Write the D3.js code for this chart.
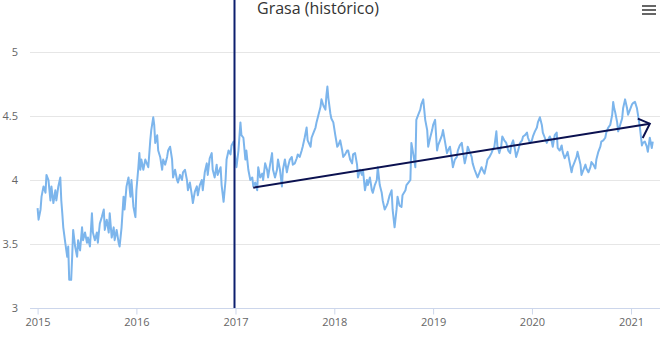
<!DOCTYPE html>
<html>
<head>
<meta charset="utf-8">
<script src="https://cdn.jsdelivr.net/npm/d3@7"></script>
<style>
  body { margin: 0; background: #fff; }
  svg { display: block; font-family: "Open Sans", "Lucida Grande", sans-serif; }
</style>
</head>
<body>
<div id="chart_area"></div>
<script>
var width = 660, height = 338,
    margin = { top: 52, right: 0, bottom: 30, left: 30 };

var title = "Grasa (histórico)";

// decimal years of the series
var years = [
  2015.00, 2015.01, 2015.03, 2015.04, 2015.06, 2015.08, 2015.09, 2015.11, 2015.13, 2015.14,
  2015.16, 2015.18, 2015.19, 2015.21, 2015.23, 2015.24, 2015.25, 2015.26, 2015.28, 2015.30,
  2015.31, 2015.32, 2015.34, 2015.35, 2015.36, 2015.38, 2015.40, 2015.41, 2015.43, 2015.45,
  2015.46, 2015.48, 2015.50, 2015.51, 2015.53, 2015.55, 2015.56, 2015.58, 2015.60, 2015.61,
  2015.63, 2015.65, 2015.67, 2015.68, 2015.70, 2015.72, 2015.73, 2015.75, 2015.77, 2015.78,
  2015.80, 2015.82, 2015.83, 2015.85, 2015.87, 2015.88, 2015.90, 2015.92, 2015.94, 2015.95,
  2015.97, 2015.99, 2016.00, 2016.02, 2016.03, 2016.04, 2016.05, 2016.07, 2016.09, 2016.12,
  2016.14, 2016.15, 2016.17, 2016.18, 2016.19, 2016.21, 2016.22, 2016.24, 2016.26, 2016.27,
  2016.29, 2016.31, 2016.32, 2016.34, 2016.36, 2016.37, 2016.39, 2016.41, 2016.42, 2016.44,
  2016.46, 2016.47, 2016.49, 2016.51, 2016.52, 2016.54, 2016.56, 2016.57, 2016.59, 2016.61,
  2016.62, 2016.64, 2016.66, 2016.67, 2016.69, 2016.71, 2016.72, 2016.74, 2016.76, 2016.77,
  2016.79, 2016.81, 2016.82, 2016.85, 2016.86, 2016.88, 2016.90, 2016.91, 2016.93, 2016.95,
  2016.96, 2016.98, 2017.00, 2017.01, 2017.03, 2017.05, 2017.06, 2017.08, 2017.10, 2017.11,
  2017.13, 2017.15, 2017.17, 2017.18, 2017.20, 2017.22, 2017.23, 2017.25, 2017.27, 2017.28,
  2017.30, 2017.32, 2017.33, 2017.35, 2017.37, 2017.38, 2017.40, 2017.42, 2017.43, 2017.45,
  2017.47, 2017.48, 2017.50, 2017.52, 2017.53, 2017.55, 2017.57, 2017.58, 2017.60, 2017.62,
  2017.63, 2017.65, 2017.67, 2017.68, 2017.70, 2017.72, 2017.73, 2017.76, 2017.77, 2017.79,
  2017.81, 2017.82, 2017.84, 2017.86, 2017.87, 2017.89, 2017.91, 2017.92, 2017.93, 2017.94,
  2017.96, 2017.97, 2017.99, 2018.01, 2018.03, 2018.04, 2018.06, 2018.08, 2018.09, 2018.11,
  2018.13, 2018.14, 2018.16, 2018.18, 2018.19, 2018.21, 2018.23, 2018.24, 2018.26, 2018.28,
  2018.29, 2018.31, 2018.33, 2018.34, 2018.36, 2018.38, 2018.39, 2018.41, 2018.43, 2018.44,
  2018.46, 2018.48, 2018.49, 2018.51, 2018.53, 2018.54, 2018.56, 2018.58, 2018.59, 2018.61,
  2018.63, 2018.64, 2018.66, 2018.68, 2018.69, 2018.72, 2018.73, 2018.75, 2018.77, 2018.78,
  2018.80, 2018.82, 2018.83, 2018.85, 2018.87, 2018.88, 2018.90, 2018.91, 2018.92, 2018.94,
  2018.95, 2018.97, 2018.99, 2019.00, 2019.02, 2019.04, 2019.05, 2019.07, 2019.09, 2019.10,
  2019.12, 2019.14, 2019.15, 2019.17, 2019.19, 2019.20, 2019.22, 2019.24, 2019.25, 2019.27,
  2019.29, 2019.30, 2019.32, 2019.34, 2019.35, 2019.37, 2019.39, 2019.40, 2019.42, 2019.44,
  2019.45, 2019.47, 2019.49, 2019.50, 2019.52, 2019.54, 2019.55, 2019.57, 2019.59, 2019.60,
  2019.62, 2019.64, 2019.65, 2019.67, 2019.69, 2019.70, 2019.72, 2019.74, 2019.76, 2019.78,
  2019.79, 2019.81, 2019.83, 2019.84, 2019.86, 2019.88, 2019.90, 2019.91, 2019.93, 2019.95,
  2019.96, 2019.98, 2020.00, 2020.01, 2020.03, 2020.05, 2020.06, 2020.08, 2020.10, 2020.11,
  2020.13, 2020.15, 2020.16, 2020.18, 2020.20, 2020.21, 2020.23, 2020.25, 2020.26, 2020.28,
  2020.30, 2020.31, 2020.33, 2020.35, 2020.36, 2020.38, 2020.40, 2020.41, 2020.43, 2020.45,
  2020.46, 2020.49, 2020.50, 2020.52, 2020.54, 2020.55, 2020.57, 2020.59, 2020.60, 2020.62,
  2020.64, 2020.65, 2020.67, 2020.69, 2020.70, 2020.72, 2020.74, 2020.75, 2020.77, 2020.79,
  2020.81, 2020.82, 2020.83, 2020.84, 2020.86, 2020.87, 2020.89, 2020.91, 2020.92, 2020.94,
  2020.96, 2020.97, 2020.99, 2021.01, 2021.02, 2021.04, 2021.06, 2021.07, 2021.09, 2021.11,
  2021.12, 2021.14, 2021.16, 2021.17, 2021.19, 2021.21, 2021.22
];

var values = [
  3.78, 3.69, 3.77, 3.87, 3.95, 3.90, 4.04, 4.00, 3.84, 3.95,
  3.82, 3.92, 3.84, 3.95, 4.02, 3.84, 3.74, 3.63, 3.51, 3.40,
  3.48, 3.22, 3.22, 3.40, 3.61, 3.48, 3.40, 3.53, 3.45, 3.63,
  3.53, 3.59, 3.51, 3.55, 3.48, 3.74, 3.59, 3.53, 3.59, 3.51,
  3.66, 3.71, 3.77, 3.61, 3.69, 3.59, 3.74, 3.55, 3.63, 3.53,
  3.61, 3.51, 3.48, 3.63, 3.87, 3.77, 3.95, 4.02, 3.87, 4.00,
  3.79, 3.71, 3.92, 4.10, 4.21, 4.08, 4.16, 4.08, 4.16, 4.10,
  4.31, 4.39, 4.49, 4.43, 4.29, 4.35, 4.23, 4.18, 4.08, 4.16,
  4.12, 4.18, 4.23, 4.26, 4.16, 4.02, 4.08, 4.00, 3.98, 4.04,
  4.00, 4.06, 4.08, 4.00, 3.92, 3.98, 3.88, 3.82, 3.91, 3.95,
  3.88, 3.96, 4.00, 3.92, 4.06, 4.13, 4.04, 4.17, 4.21, 4.08,
  4.02, 4.12, 4.04, 4.10, 3.96, 3.83, 4.00, 4.16, 4.23, 4.20,
  4.27, 4.30, 4.16, 4.10, 4.23, 4.45, 4.35, 4.33, 4.16, 4.23,
  4.08, 4.00, 4.02, 3.95, 3.98, 3.92, 4.10, 4.02, 4.05, 4.00,
  4.13, 4.08, 4.02, 4.12, 4.21, 4.08, 4.02, 4.08, 4.16, 4.08,
  3.95, 4.08, 4.16, 4.06, 4.10, 4.16, 4.18, 4.12, 4.13, 4.17,
  4.20, 4.18, 4.23, 4.26, 4.33, 4.41, 4.31, 4.26, 4.33, 4.37,
  4.41, 4.45, 4.51, 4.57, 4.63, 4.58, 4.55, 4.66, 4.73, 4.64,
  4.52, 4.48, 4.45, 4.35, 4.26, 4.27, 4.31, 4.23, 4.18, 4.20,
  4.23, 4.23, 4.16, 4.13, 4.20, 4.21, 4.12, 4.02, 4.08, 4.04,
  4.08, 3.92, 4.00, 3.96, 4.02, 3.92, 3.90, 3.96, 4.00, 4.10,
  3.96, 3.90, 3.84, 3.77, 3.80, 3.82, 3.88, 3.92, 3.77, 3.63,
  3.77, 3.87, 3.80, 3.79, 3.88, 3.92, 3.96, 3.98, 4.00, 4.29,
  4.20, 4.10, 4.47, 4.51, 4.55, 4.59, 4.63, 4.55, 4.47, 4.39,
  4.26, 4.33, 4.39, 4.43, 4.47, 4.23, 4.27, 4.31, 4.35, 4.39,
  4.30, 4.21, 4.23, 4.26, 4.16, 4.10, 4.16, 4.18, 4.23, 4.27,
  4.29, 4.23, 4.13, 4.20, 4.26, 4.22, 4.18, 4.13, 4.08, 4.04,
  4.02, 4.06, 4.10, 4.08, 4.05, 4.12, 4.16, 4.18, 4.21, 4.23,
  4.26, 4.38, 4.27, 4.21, 4.27, 4.34, 4.31, 4.29, 4.23, 4.21,
  4.27, 4.31, 4.23, 4.18, 4.23, 4.29, 4.31, 4.34, 4.35, 4.37,
  4.33, 4.29, 4.31, 4.34, 4.38, 4.41, 4.45, 4.49, 4.43, 4.37,
  4.33, 4.29, 4.31, 4.34, 4.30, 4.26, 4.35, 4.37, 4.25, 4.23,
  4.27, 4.22, 4.17, 4.20, 4.22, 4.14, 4.06, 4.10, 4.14, 4.18,
  4.22, 4.12, 4.04, 4.08, 4.12, 4.09, 4.06, 4.10, 4.14, 4.12,
  4.09, 4.16, 4.22, 4.26, 4.30, 4.31, 4.33, 4.37, 4.41, 4.43,
  4.51, 4.61, 4.56, 4.53, 4.45, 4.38, 4.43, 4.48, 4.56, 4.63,
  4.56, 4.51, 4.55, 4.59, 4.60, 4.61, 4.56, 4.51, 4.41, 4.27,
  4.29, 4.30, 4.26, 4.22, 4.33, 4.25, 4.30
];

var yTicks = [3, 3.5, 4, 4.5, 5];
var xTickYears = [2015, 2016, 2017, 2018, 2019, 2020, 2021];

// marker line and trend arrow annotations
var markerYear = [2016.99];
var trendYears = [2017.18, 2021.19];
var trendValues = [3.94, 4.44];

function toDate(y) {
  var yr = Math.floor(y);
  var start = Date.UTC(yr, 0, 1), end = Date.UTC(yr + 1, 0, 1);
  return new Date(start + (y - yr) * (end - start));
}

var data = years.map(function (y, i) { return { date: toDate(y), value: values[i] }; });

var svg = d3.select("#chart_area")
    .append("svg")
    .attr("width", width)
    .attr("height", height);

var x = d3.scaleUtc()
    .domain([new Date(Date.UTC(2014, 11, 4)), new Date(Date.UTC(2021, 3, 18))])
    .range([margin.left, width - margin.right]);

var y = d3.scaleLinear()
    .domain([3, 5])
    .range([height - margin.bottom, margin.top]);

// gridlines
svg.append("g")
    .selectAll("line")
    .data(yTicks)
    .enter()
    .append("line")
    .attr("x1", margin.left)
    .attr("x2", width - margin.right)
    .attr("y1", function (d) { return y(d) + 0.5; })
    .attr("y2", function (d) { return y(d) + 0.5; })
    .attr("stroke", function (d) { return d === 3 ? "#ccd6eb" : "#e6e6e6"; })
    .attr("stroke-width", 1);

// Y labels
svg.append("g")
    .selectAll("text")
    .data(yTicks)
    .enter()
    .append("text")
    .attr("x", 18)
    .attr("y", function (d) { return y(d) + 4; })
    .attr("text-anchor", "end")
    .attr("fill", "#666")
    .style("font-size", "11px")
    .text(function (d) { return d; });

// X axis
var xAxis = svg.append("g")
    .attr("transform", "translate(0," + (y(3) + 0.5) + ")")
    .call(d3.axisBottom(x)
        .tickValues(xTickYears.map(function (d) { return new Date(Date.UTC(d, 0, 1)); }))
        .tickFormat(d3.utcFormat("%Y"))
        .tickSizeOuter(0)
        .tickSize(6)
        .tickPadding(4));
xAxis.select(".domain").remove();
xAxis.selectAll("line").attr("stroke", "#ccd6eb");
xAxis.selectAll("text")
    .attr("fill", "#666")
    .style("font-size", "11px")
    .style("font-family", "\"Open Sans\", sans-serif");

// series
var line = d3.line()
    .x(function (d) { return x(d.date); })
    .y(function (d) { return y(d.value); });

svg.append("path")
    .datum(data)
    .attr("fill", "none")
    .attr("stroke", "#7cb5ec")
    .attr("stroke-width", 2)
    .attr("stroke-linejoin", "round")
    .attr("d", line);

// vertical marker line
svg.selectAll("line.marker")
    .data(markerYear)
    .enter()
    .append("line")
    .attr("class", "marker")
    .attr("x1", function (d) { return x(toDate(d)); })
    .attr("x2", function (d) { return x(toDate(d)); })
    .attr("y1", 0)
    .attr("y2", y(3))
    .attr("stroke", "#0d1f6e")
    .attr("stroke-width", 2);

// trend arrow
var x0 = x(toDate(trendYears[0])), y0 = y(trendValues[0]),
    x1 = x(toDate(trendYears[1])), y1 = y(trendValues[1]);
svg.append("line")
    .attr("x1", x0).attr("y1", y0)
    .attr("x2", x1).attr("y2", y1)
    .attr("stroke", "#0b1150")
    .attr("stroke-width", 2);

var ang = Math.atan2(y0 - y1, x0 - x1);
function arm(rot, len) {
    return [x1 + len * Math.cos(ang + rot), y1 + len * Math.sin(ang + rot)];
}
var a1 = arm(0.56, 13), a2 = arm(-0.95, 16);
svg.append("path")
    .attr("d", "M" + a1[0] + "," + a1[1] + "L" + x1 + "," + y1 + "L" + a2[0] + "," + a2[1])
    .attr("fill", "none")
    .attr("stroke", "#0b1150")
    .attr("stroke-width", 2);

// title
svg.append("text")
    .attr("x", 257)
    .attr("y", 14)
    .attr("fill", "#333")
    .style("font-size", "16px")
    .text(title);

// menu icon
svg.append("g")
    .selectAll("rect")
    .data([0, 1, 2])
    .enter()
    .append("rect")
    .attr("x", 642)
    .attr("y", function (d) { return 5 + d * 4; })
    .attr("width", 14)
    .attr("height", 2)
    .attr("fill", "#666");
</script>
</body>
</html>
